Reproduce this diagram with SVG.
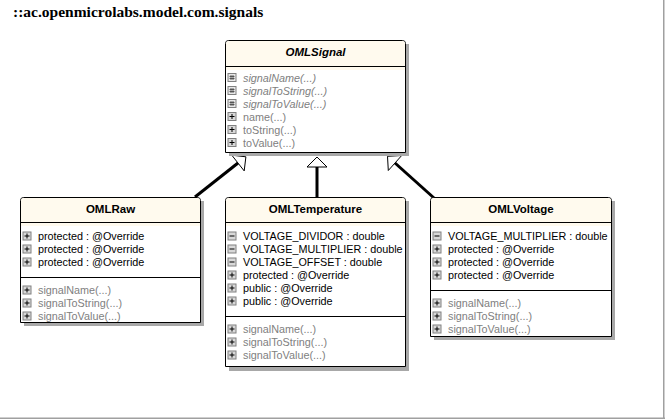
<svg xmlns="http://www.w3.org/2000/svg" xmlns:xlink="http://www.w3.org/1999/xlink" width="665" height="419" viewBox="0 0 665 419">
<style>
.pkg{font-family:"Liberation Serif","Times New Roman",serif;font-weight:bold;font-size:15.5px;fill:#000}
.title{font-family:"Liberation Sans",Arial,sans-serif;font-weight:bold;font-size:11.5px;text-anchor:middle;fill:#000}
.it{font-family:"Liberation Sans",Arial,sans-serif;font-size:10.8px;fill:#000}
.m{fill:#808080}
.abs{font-style:italic}
.box{fill:#fff;stroke:#000;stroke-width:1}
.hdr{fill:#fffaee}
.sh{fill:#a8a8a8}
.sep{stroke:#000;stroke-width:1}
.conn{stroke:#000;stroke-width:3;fill:none}
.arr{fill:#fff;stroke:#000;stroke-width:1}
</style>
<defs>
<g id="ip"><rect x="0.5" y="0.5" width="8" height="8" fill="#d8d8d8" stroke="#808080"/><path d="M2 4.5H7M4.5 2V7" stroke="#000" stroke-width="1"/></g>
<g id="im"><rect x="0.5" y="0.5" width="8" height="8" fill="#d8d8d8" stroke="#808080"/><path d="M2 4.5H7" stroke="#000" stroke-width="1"/></g>
<g id="ih"><rect x="0.5" y="0.5" width="8" height="8" fill="#e8e8e8" stroke="#808080"/><path d="M3.5 2V7M5.5 2V7M2 3.5H7M2 5.5H7" stroke="#404040" stroke-width="0.8"/></g>
</defs>
<rect x="0" y="0" width="665" height="419" fill="#fff"/>
<rect x="663" y="0" width="1.5" height="419" fill="#a0a0a0"/>
<rect x="0" y="417.5" width="665" height="1.5" fill="#a0a0a0"/>
<text class="pkg" x="13" y="17">::ac.openmicrolabs.model.com.signals</text>

<g id="connectors">
<line class="conn" x1="195" y1="197" x2="238" y2="163"/>
<polygon class="arr" points="245.9,156.8 244.2,170.9 231.8,155.2"/>
<line class="conn" x1="317" y1="197" x2="317" y2="167"/>
<polygon class="arr" points="317,157 327,167 307,167"/>
<line class="conn" x1="434" y1="198" x2="395" y2="163"/>
<polygon class="arr" points="387.5,156.3 401.7,155.5 388.3,170.5"/>
</g>

<g id="OMLSignal">
<rect class="sh" x="229" y="44" width="180" height="112"/>
<path class="box" d="M225.5 152.5V43.5Q225.5 40.5 228.5 40.5H402.5Q405.5 40.5 405.5 43.5V152.5Z"/>
<path class="hdr" d="M226 70V43.5Q226 41 228.5 41H402.5Q405 41 405 43.5V70Z"/>
<line class="sep" x1="225.5" y1="66.5" x2="405.5" y2="66.5"/>
<text class="title abs" x="315.5" y="56">OMLSignal</text>
<use xlink:href="#ih" x="227.5" y="73"/><text class="it m abs" x="243" y="81.5">signalName(...)</text>
<use xlink:href="#ih" x="227.5" y="86"/><text class="it m abs" x="243" y="94.5">signalToString(...)</text>
<use xlink:href="#ih" x="227.5" y="99"/><text class="it m abs" x="243" y="107.5">signalToValue(...)</text>
<use xlink:href="#ip" x="227.5" y="112"/><text class="it m" x="243" y="120.5">name(...)</text>
<use xlink:href="#ip" x="227.5" y="125"/><text class="it m" x="243" y="133.5">toString(...)</text>
<use xlink:href="#ip" x="227.5" y="138"/><text class="it m" x="243" y="146.5">toValue(...)</text>
</g>

<g id="OMLRaw">
<rect class="sh" x="24" y="201" width="180" height="125"/>
<path class="box" d="M20.5 322.5V200.5Q20.5 197.5 23.5 197.5H197.5Q200.5 197.5 200.5 200.5V322.5Z"/>
<path class="hdr" d="M21 226V200.5Q21 198 23.5 198H197.5Q200 198 200 200.5V226Z"/>
<line class="sep" x1="20.5" y1="222.5" x2="200.5" y2="222.5"/>
<text class="title" x="110.5" y="213">OMLRaw</text>
<use xlink:href="#ip" x="22.5" y="231.5"/><text class="it" x="38" y="240">protected : @Override</text>
<use xlink:href="#ip" x="22.5" y="244.5"/><text class="it" x="38" y="253">protected : @Override</text>
<use xlink:href="#ip" x="22.5" y="257.5"/><text class="it" x="38" y="266">protected : @Override</text>
<line class="sep" x1="20.5" y1="277.5" x2="200.5" y2="277.5"/>
<use xlink:href="#ip" x="22.5" y="285.5"/><text class="it m" x="38" y="294">signalName(...)</text>
<use xlink:href="#ip" x="22.5" y="298.5"/><text class="it m" x="38" y="307">signalToString(...)</text>
<use xlink:href="#ip" x="22.5" y="311.5"/><text class="it m" x="38" y="320">signalToValue(...)</text>
</g>

<g id="OMLTemperature">
<rect class="sh" x="229" y="201" width="180" height="170"/>
<path class="box" d="M225.5 366.5V200.5Q225.5 197.5 228.5 197.5H402.5Q405.5 197.5 405.5 200.5V366.5Z"/>
<path class="hdr" d="M226 226V200.5Q226 198 228.5 198H402.5Q405 198 405 200.5V226Z"/>
<line class="sep" x1="225.5" y1="222.5" x2="405.5" y2="222.5"/>
<text class="title" x="315.5" y="213">OMLTemperature</text>
<use xlink:href="#im" x="227.5" y="231.5"/><text class="it" x="243" y="240">VOLTAGE_DIVIDOR : double</text>
<use xlink:href="#im" x="227.5" y="244.5"/><text class="it" x="243" y="253">VOLTAGE_MULTIPLIER : double</text>
<use xlink:href="#im" x="227.5" y="257.5"/><text class="it" x="243" y="266">VOLTAGE_OFFSET : double</text>
<use xlink:href="#ip" x="227.5" y="270.5"/><text class="it" x="243" y="279">protected : @Override</text>
<use xlink:href="#ip" x="227.5" y="283.5"/><text class="it" x="243" y="292">public : @Override</text>
<use xlink:href="#ip" x="227.5" y="296.5"/><text class="it" x="243" y="305">public : @Override</text>
<line class="sep" x1="225.5" y1="316.5" x2="405.5" y2="316.5"/>
<use xlink:href="#ip" x="227.5" y="324.5"/><text class="it m" x="243" y="333">signalName(...)</text>
<use xlink:href="#ip" x="227.5" y="337.5"/><text class="it m" x="243" y="346">signalToString(...)</text>
<use xlink:href="#ip" x="227.5" y="350.5"/><text class="it m" x="243" y="359">signalToValue(...)</text>
</g>

<g id="OMLVoltage">
<rect class="sh" x="434" y="201" width="181" height="139"/>
<path class="box" d="M430.5 336.5V200.5Q430.5 197.5 433.5 197.5H608.5Q611.5 197.5 611.5 200.5V336.5Z"/>
<path class="hdr" d="M431 226V200.5Q431 198 433.5 198H608.5Q611 198 611 200.5V226Z"/>
<line class="sep" x1="430.5" y1="222.5" x2="611.5" y2="222.5"/>
<text class="title" x="521" y="213">OMLVoltage</text>
<use xlink:href="#im" x="432.5" y="231.5"/><text class="it" x="448" y="240">VOLTAGE_MULTIPLIER : double</text>
<use xlink:href="#ip" x="432.5" y="244.5"/><text class="it" x="448" y="253">protected : @Override</text>
<use xlink:href="#ip" x="432.5" y="257.5"/><text class="it" x="448" y="266">protected : @Override</text>
<use xlink:href="#ip" x="432.5" y="270.5"/><text class="it" x="448" y="279">protected : @Override</text>
<line class="sep" x1="430.5" y1="290.5" x2="611.5" y2="290.5"/>
<use xlink:href="#ip" x="432.5" y="298.5"/><text class="it m" x="448" y="307">signalName(...)</text>
<use xlink:href="#ip" x="432.5" y="311.5"/><text class="it m" x="448" y="320">signalToString(...)</text>
<use xlink:href="#ip" x="432.5" y="324.5"/><text class="it m" x="448" y="333">signalToValue(...)</text>
</g>
</svg>
